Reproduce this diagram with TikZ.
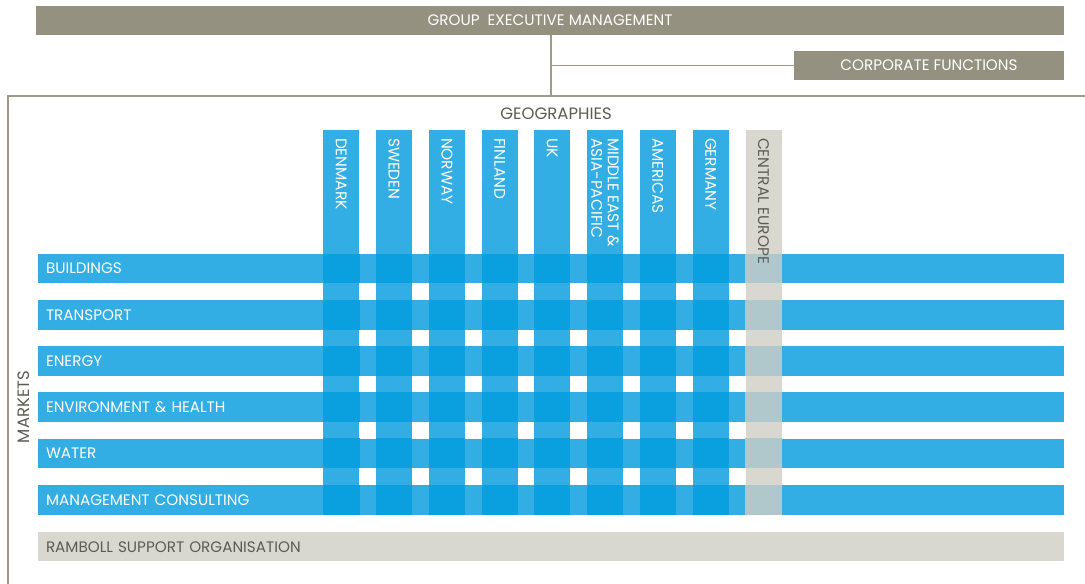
\documentclass[tikz,border=0pt]{standalone}
\usepackage{fontspec}
\setmainfont{Poppins}
\usetikzlibrary{calc}
\definecolor{mgmtgrey}{HTML}{959181}
\definecolor{linegrey}{HTML}{9E9A8C}
\definecolor{mktblue}{HTML}{33AEE4}
\definecolor{crossblue}{HTML}{0AA0DF}
\definecolor{supportgrey}{HTML}{D8D8D1}
\definecolor{crossgrey}{HTML}{B0C8CC}
\definecolor{labelgrey}{HTML}{5C5C54}
\tikzset{
  capsbox/.style={text height=10.6pt, text depth=0pt},
  headbar/.style={fill=mgmtgrey, text=white, inner sep=0pt, capsbox, font=\fontsize{15.2}{17}\selectfont},
  rowbar/.style={fill=mktblue, text=white, inner xsep=8pt, inner ysep=0pt, capsbox,
    minimum height=29.5pt, text width=1010pt, align=left, font=\fontsize{15.2}{17}\selectfont},
  supportbar/.style={rowbar, fill=supportgrey, text=labelgrey},
  colbar/.style={fill=mktblue, inner sep=0pt, minimum width=36pt, minimum height=385pt},
  colgrey/.style={colbar, fill=supportgrey},
  coltext/.style={rotate=-90, anchor=west, inner sep=0pt, text=white, align=left,
    font=\fontsize{15.4}{16.5}\selectfont},
  frameline/.style={draw=linegrey, line width=1.3pt},
  caption/.style={text=labelgrey, inner sep=0pt, text height=11.5pt, text depth=0pt,
    font=\fontsize{16.5}{18}\selectfont}
}
\begin{document}
\begin{tikzpicture}[x=1pt,y=-1pt]
\useasboundingbox (0,0) rectangle (1085,584);

% management level
\node[headbar, minimum width=1028pt, minimum height=29pt] (gem) at (550,20.5) {GROUP\ \ EXECUTIVE MANAGEMENT};
\node[headbar, minimum width=270pt, minimum height=29pt] (cf) at (929,65.5) {CORPORATE FUNCTIONS};
\coordinate (junction) at (551,96);
\coordinate (frameright) at (1085,96);
\coordinate (framebottom) at (8,584);
\draw[frameline] (gem.south -| junction) -- (junction);
\draw[frameline] (cf.west) -- (cf.west -| junction);
\draw[frameline] (frameright) -- (8,96) -- (framebottom);

\node[caption] (geo) at (556,113.5) {GEOGRAPHIES};
\node[caption, rotate=90] (mkt) at (24,407) {MARKETS};

% market rows
\foreach \name/\txt/\y in {r1/BUILDINGS/268.5, r2/TRANSPORT/314.8, r3/ENERGY/361,
    r4/ENVIRONMENT \& HEALTH/407.2, r5/WATER/453.4, r6/MANAGEMENT CONSULTING/500}
  \node[rowbar] (\name) at (551,\y) {\txt};
\node[supportbar] (sup) at (551,546.7) {RAMBOLL SUPPORT ORGANISATION};

% geography columns
\foreach \i/\x in {1/341.3, 2/394.1, 3/446.9, 4/499.7, 5/552.2, 6/605, 7/657.7, 8/710.7}
  \node[colbar] (c\i) at (\x,322.5) {};
\node[colgrey] (c9) at (763.5,322.5) {};

% crossings of rows and columns
\foreach \i in {1,...,8}
  \foreach \r in {1,...,6}
    \fill[crossblue] (c\i.west |- r\r.north) rectangle (c\i.east |- r\r.south);
\foreach \r in {1,...,6}
  \fill[crossgrey] (c9.west |- r\r.north) rectangle (c9.east |- r\r.south);

% column labels
\node[coltext] (t1) at ([yshift=-8pt]c1.north) {DENMARK};
\node[coltext] (t2) at ([yshift=-8pt]c2.north) {SWEDEN};
\node[coltext] (t3) at ([yshift=-8pt]c3.north) {NORWAY};
\node[coltext] (t4) at ([yshift=-8pt]c4.north) {FINLAND};
\node[coltext] (t5) at ([yshift=-8pt]c5.north) {UK};
\node[coltext] (t6) at ([yshift=-8pt]c6.north) {MIDDLE EAST \&\\ASIA-PACIFIC};
\node[coltext] (t7) at ([yshift=-8pt]c7.north) {AMERICAS};
\node[coltext] (t8) at ([yshift=-8pt]c8.north) {GERMANY};
\node[coltext, text=labelgrey] (t9) at ([yshift=-8pt]c9.north) {CENTRAL EUROPE};
\end{tikzpicture}
\end{document}
